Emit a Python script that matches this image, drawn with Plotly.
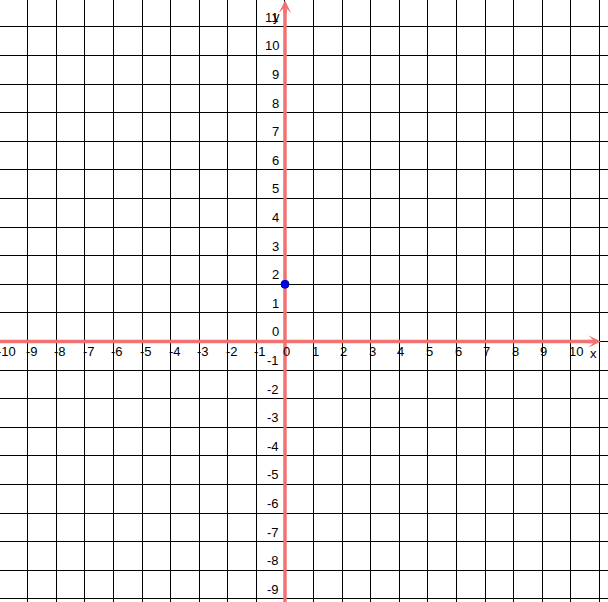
import plotly.graph_objects as go

# tick values shown along each axis
x_ticks = list(range(-10, 11))
y_ticks = list(range(-9, 12))

# the single plotted point
point_x = [0]
point_y = [2]

x_range = [-9.97, 11.3]
y_range = [-9.11, 11.94]
px_per_unit = 608 / (x_range[1] - x_range[0])
x_tip = 11.05
y_tip = 11.92

axis_red = "#f07272"
label_font = dict(family="Liberation Sans, Arial, sans-serif", size=13, color="black")

fig = go.Figure()

# axis lines as traces so the point can sit on top of them
fig.add_trace(go.Scatter(x=[x_range[0] - 1, x_tip - 0.3], y=[0, 0], mode="lines",
                         line=dict(color=axis_red, width=3.5), hoverinfo="skip", showlegend=False))
fig.add_trace(go.Scatter(x=[0, 0], y=[y_range[0] - 1, y_tip - 0.3], mode="lines",
                         line=dict(color=axis_red, width=3.5), hoverinfo="skip", showlegend=False))

fig.add_trace(go.Scatter(
    x=point_x, y=point_y, mode="markers",
    marker=dict(color="#0000f0", size=8, line=dict(color="#0000a0", width=1)),
    hoverinfo="x+y", showlegend=False, cliponaxis=False,
))

annotations = []
# x tick labels, sitting just right of their grid line, under the axis
for v in x_ticks:
    # a label whose line is off the left edge is pinned to the edge and shifted back
    ax_x = max(v, x_range[0])
    shift = -4 - (ax_x - v) * px_per_unit
    annotations.append(dict(
        x=ax_x, y=0, text=str(v), showarrow=False, font=label_font,
        xanchor="left", yanchor="top", xshift=shift, yshift=-1,
    ))
# y tick labels, left of the axis and just above their grid line
for v in y_ticks:
    annotations.append(dict(
        x=0, y=v, text=str(v), showarrow=False, font=label_font,
        xanchor="right", yanchor="bottom", xshift=-4, yshift=0,
    ))

# arrowheads at the axis ends
annotations.append(dict(
    x=x_tip, y=0, ax=x_tip - 0.5, ay=0, xref="x", yref="y", axref="x", ayref="y",
    showarrow=True, arrowhead=3, arrowsize=0.6, arrowwidth=3.5, arrowcolor=axis_red, text="",
))
annotations.append(dict(
    x=0, y=y_tip, ax=0, ay=y_tip - 0.5, xref="x", yref="y", axref="x", ayref="y",
    showarrow=True, arrowhead=3, arrowsize=0.6, arrowwidth=3.5, arrowcolor=axis_red, text="",
))

# axis names
annotations.append(dict(x=10.78, y=-0.42, text="x", showarrow=False, font=label_font))
annotations.append(dict(x=-0.28, y=11.36, text="y", showarrow=False, font=label_font))

fig.update_layout(
    width=608, height=602, autosize=False,
    margin=dict(l=0, r=0, t=0, b=0),
    plot_bgcolor="white", paper_bgcolor="white",
    annotations=annotations,
    showlegend=False,
)
fig.update_xaxes(range=x_range, dtick=1, tick0=0, showgrid=True, gridcolor="black",
                 gridwidth=1, zeroline=False, showticklabels=False, ticks="", showline=False)
fig.update_yaxes(range=y_range, dtick=1, tick0=0, showgrid=True, gridcolor="black",
                 gridwidth=1, zeroline=False, showticklabels=False, ticks="", showline=False)

fig.write_html("out.html", config={"displayModeBar": False},
               post_script="document.body.style.margin='0';")
